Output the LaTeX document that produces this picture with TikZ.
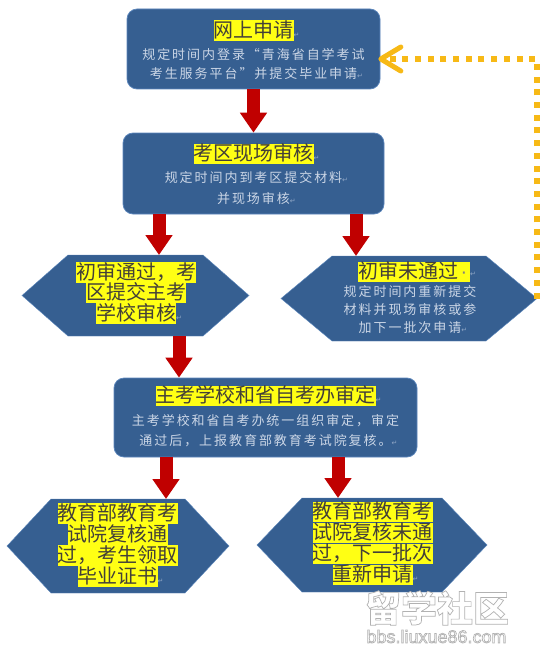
\documentclass[tikz,border=0pt]{standalone}
\usepackage{fontspec}
\usetikzlibrary{arrows.meta}
\setmainfont{Liberation Sans}
\newfontfamily\cjk{Noto Sans CJK SC}
\newfontfamily\cjksp[LetterSpace=15]{Noto Sans CJK SC}
\newfontfamily\djv{DejaVu Sans}
\definecolor{boxblue}{HTML}{365F91}
\definecolor{boxedge}{HTML}{5B86BC}
\definecolor{hlyellow}{HTML}{FFFF14}
\definecolor{subtxt}{HTML}{CBD6E6}
\definecolor{darkred}{HTML}{C00000}
\definecolor{retorange}{HTML}{F7B916}
\definecolor{markc}{HTML}{8FA6C6}
\newcommand{\hlt}[1]{{\setlength{\fboxsep}{0pt}\colorbox{hlyellow}{\rule[-0.17em]{0pt}{1.02em}#1}}}
\newcommand{\retm}{\rlap{\djv\fontsize{7}{7}\selectfont\textcolor{markc}{↵}}}
\newcommand{\ttl}{\cjk\fontsize{20}{20}\selectfont\color{black!85!yellow}}
\newcommand{\subt}{\cjksp\fontsize{13}{13}\selectfont\color{subtxt}}
\newcommand{\hexfill}[2]{\path[hexpath] (#1.west) -- ([xshift=#2pt]#1.north west) -- ([xshift=-#2pt]#1.north east) -- (#1.east) -- ([xshift=-#2pt]#1.south east) -- ([xshift=#2pt]#1.south west) -- cycle;}
\newcommand{\outl}[1]{\special{pdf:code 2 Tr 0.70 G 0.7 w}#1\special{pdf:code 0 Tr}}
\tikzset{
  roundbox/.style={rounded corners=10pt,fill=boxblue,draw=boxedge,line width=0.7pt,inner sep=0pt,align=center},
  hexbox/.style={inner sep=0pt,outer sep=0pt},
  hexpath/.style={fill=boxblue,draw=boxedge,line width=0.4pt},
  redarrow/.style={draw=darkred,line width=13pt,-{Triangle[width=26pt,length=20pt]}},
  retline/.style={draw=retorange,line width=6pt,dash pattern=on 6pt off 6.7pt,-{Straight Barb[length=20pt,width=24pt,line width=5pt,round]}},
  lbl/.style={inner sep=0pt,align=center},
  wm/.style={inner sep=0pt,anchor=center}
}
\begin{document}
\begin{tikzpicture}[x=1pt,y=-1pt]
\useasboundingbox (0,0) rectangle (547,658);
\fill[white] (0,0) rectangle (547,658);
\node[roundbox,minimum width=253pt,minimum height=80pt] (apply) at (253.5,49) {};
\node[roundbox,minimum width=261pt,minimum height=81pt] (review) at (253.5,173.5) {};
\node[roundbox,minimum width=303pt,minimum height=79pt] (joint) at (265.5,417.5) {};
\node[hexbox,minimum width=227pt,minimum height=81pt] (pass) at (135.5,295.5) {};
\node[hexbox,minimum width=256pt,minimum height=85pt] (fail) at (409,298.5) {};
\node[hexbox,minimum width=222pt,minimum height=94pt] (okfinal) at (118,546) {};
\node[hexbox,minimum width=230pt,minimum height=94pt] (nofinal) at (372,545) {};
\hexfill{pass}{46}
\hexfill{fail}{51}
\hexfill{okfinal}{44}
\hexfill{nofinal}{45}

\node[lbl,font=\fontsize{12}{19}\selectfont] (applytxt) at (253.5,50) {{\ttl\hlt{网上申请}\retm}\\[3pt]{\subt 规定时间内登录“青海省自学考试}\\{\subt 考生服务平台”并提交毕业申请\retm}};
\node[lbl,font=\fontsize{12}{21}\selectfont] (reviewtxt) at (253.5,174.5) {{\ttl\hlt{考区现场审核}\retm}\\[1pt]{\subt 规定时间内到考区提交材料\retm}\\{\subt 并现场审核\retm}};
\node[lbl,font=\fontsize{12}{20}\selectfont] (jointtxt) at (265.5,416.5) {{\ttl\hlt{主考学校和省自考办审定}\retm}\\[3pt]{\subt 主考学校和省自考办统一组织审定，审定}\\{\subt 通过后，上报教育部教育考试院复核。\retm}};
\node[lbl,font=\fontsize{12}{20.5}\selectfont] (passtxt) at (136,293) {{\ttl\hlt{初审通过，考}}\\{\ttl\hlt{区提交主考}}\\{\ttl\hlt{学校审核}\retm}};
\node[lbl,font=\fontsize{12}{18}\selectfont] (failtxt) at (410,298) {\hspace*{8pt}{\ttl\hlt{初审未通过\makebox[12pt]{\textcolor{gray}{\rmfamily ·}}}\raisebox{2pt}{\retm}}\\{\subt 规定时间内重新提交}\\{\subt 材料并现场审核或参}\\{\subt 加下一批次申请\retm}};
\node[lbl,font=\fontsize{12}{21}\selectfont] (oktxt) at (117.5,545) {{\ttl\hlt{教育部教育考}}\\{\ttl\hlt{试院复核通}}\\{\ttl\hlt{过，考生领取}}\\{\ttl\hlt{毕业证书}\retm}};
\node[lbl,font=\fontsize{12}{21}\selectfont] (notxt) at (372.5,543.5) {{\ttl\hlt{教育部教育考}}\\{\ttl\hlt{试院复核未通}}\\{\ttl\hlt{过，下一批次}}\\{\ttl\hlt{重新申请}\retm}};

\draw[redarrow] (apply.south) -- (review.north);
\draw[redarrow] ([xshift=-94.5pt]review.south) -- ([xshift=23.5pt]pass.north);
\draw[redarrow] ([xshift=102.5pt]review.south) -- ([xshift=-53pt]fail.north);
\draw[redarrow] ([xshift=43.5pt]pass.south) -- ([xshift=-86.5pt]joint.north);
\draw[redarrow] ([xshift=-99.5pt]joint.south) -- ([xshift=48pt]okfinal.north);
\draw[redarrow] ([xshift=72.5pt]joint.south) -- ([xshift=-34pt]nofinal.north);
\draw[retline] (fail.east) |- ([xshift=-2pt,yshift=-10pt]apply.east);

\node[wm,text=white] (wmtext) at (437,608) {\cjk\bfseries\fontsize{36}{36}\selectfont\outl{留学社区}};
\node[wm,text=white] (urltext) at (436.5,636.5) {\fontsize{18}{18}\selectfont\outl{bbs.liuxue86.com}};
\end{tikzpicture}
\end{document}
